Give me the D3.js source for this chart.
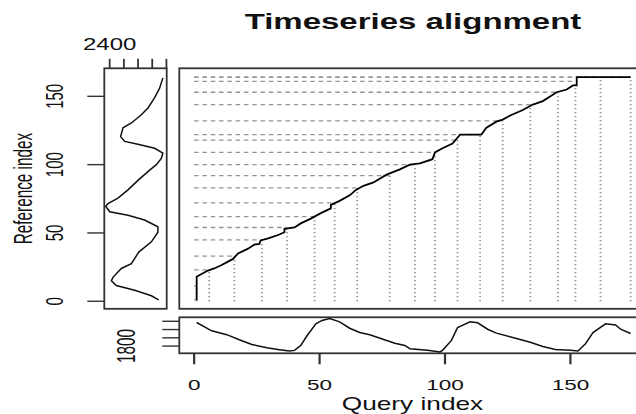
<!DOCTYPE html>
<html><head><meta charset="utf-8">
<script src="https://cdn.jsdelivr.net/npm/d3@7/dist/d3.min.js"></script>
<style>body{margin:0;background:#fff}svg{display:block}text{font-family:"Liberation Sans",Arial,sans-serif;fill:#111}</style>
</head><body>
<svg id="chart" width="636" height="414"></svg>
<script>
// ---- data ----
const title = "Timeseries alignment";
const xLabel = "Query index";
const yLabel = "Reference index";
const queryLength = 174;
const referenceLength = 164;
// alignment path vertices (query index, reference index)
const pathQ = [1,1,3.5,5.5,8,11,13.5,15.5,17.5,21.5,24,26,26.5,29.5,33.5,36,36,40,42.5,46.5,50.5,54.5,54.5,58,62,64.5,67.5,71.5,76.5,82,86,90,95,96,99,103,106,114.5,116.5,120.5,123,126,131,135,139,144.5,148.5,151,152.5,152.5,174];
const pathR = [1,18,20.5,22.5,24,26.5,29,31,35,38.5,41.5,42,44.5,46,48.5,50.5,53,54,57,60.5,64.5,68,70.5,73.5,77.5,81.5,84.5,87,92.5,96.5,100,101,104,109,112,115.5,122,122,127,131.5,133,136,140,144,146.5,153,155,158,158,164,164];
// match lines (every n-th path point)
const matchQ = [1,1,6,16,27,37,48,56,65,78,88,96,105,114,123,134,145,152,162,174];
const matchR = [1,11,23,33,45,54,62,72,83,92,100,109,118,122,132,144,153,161,164,164];
// query series (bottom panel)
const queryIdx = [1,7,13,18,23,29,34,38,40,42.5,45,48.5,51,54,58,62,66,70,75,80,84,86,93,98,99,102.5,105,110,113,117,120.5,127,134,139,144,150,153,156,159,164,168,170,174];
const queryVal = [2085,1985,1938,1876,1820,1780,1757,1740,1748,1808,1925,2070,2110,2132,2093,2016,1964,1937,1886,1835,1808,1769,1749,1729,1749,1866,2023,2093,2082,2004,1957,1905,1846,1796,1760,1749,1740,1828,1964,2070,2055,2004,1952];
// reference series (left panel)
const refIdx = [1,4,8,11.5,15,17.5,24,27.5,36,43.5,50.5,54.5,59.5,63,65.5,69.5,71.5,75.5,81.5,89,96,100,104.5,108.5,112,115,117,120.5,127,130.5,136.5,141.5,149,156,163.5];
const refVal = [2055,2106,2224,2353,2388,2377,2318,2247,2195,2106,2060,2060,2154,2271,2400,2428,2412,2342,2271,2195,2118,2071,2036,2025,2083,2201,2294,2323,2306,2247,2177,2130,2083,2048,2025];
const refAxisTicks = [2400,2300,2200,2100,2000];
const refAxisLabels = ["2400"];
const queryAxisTicks = [1800,1900,2000,2100];
const queryAxisLabels = ["1800"];
const indexTicks = [0,50,100,150];

// ---- layout ----
const svg = d3.select("#chart");
const SX = 1.5;   // horizontal stretch of the picture
const SXV = 1.65; // stretch seen on rotated text
const main = {l:179.3, r:648, t:68.3, b:308.8};
const left = {l:104.3, r:166.7};
const low = {t:317.3, b:353.3};
const border = "#333";

const qExt = (queryLength-1)*0.04, rExt = (referenceLength-1)*0.04;
const x = d3.scaleLinear().domain([1-qExt, queryLength+qExt]).range([main.l, main.r]);
const y = d3.scaleLinear().domain([1-rExt, referenceLength+rExt]).range([main.b, main.t]);
const xRef = d3.scaleLinear().domain([2438, 1998]).range([left.l, left.r]);
const qMin = d3.min(queryVal), qMax = d3.max(queryVal), qE = (qMax-qMin)*0.04;
const yQ = d3.scaleLinear().domain([qMin-qE, qMax+qE]).range([low.b, low.t]);

function htext(txt, cx, by, size, weight, anchor) {
  svg.append("text").attr("transform", `translate(${cx},${by}) scale(${SX},1)`)
    .attr("text-anchor", anchor || "middle").attr("font-size", size)
    .attr("font-weight", weight || "normal").text(txt);
}
function vtext(txt, bx, cy, size) {
  svg.append("text").attr("transform", `translate(${bx},${cy}) scale(${SXV},1) rotate(-90)`)
    .attr("text-anchor", "middle").attr("font-size", size).text(txt);
}

// match lines
const mIdx = d3.range(matchQ.length);
svg.append("g").selectAll("line").data(mIdx).join("line")
  .attr("x1", i => x(matchQ[i])).attr("x2", i => x(matchQ[i]))
  .attr("y1", y(0)).attr("y2", i => y(matchR[i]))
  .attr("stroke", "#949494").attr("stroke-width", 1.8).attr("stroke-dasharray", "1.3,2.7");
svg.append("g").selectAll("line").data(mIdx).join("line")
  .attr("x1", x(0)).attr("x2", i => x(matchQ[i]))
  .attr("y1", i => y(matchR[i])).attr("y2", i => y(matchR[i]))
  .attr("stroke", "#949494").attr("stroke-width", 1.3).attr("stroke-dasharray", "4.5,3.8");

// alignment path
svg.append("path").datum(d3.range(pathQ.length))
  .attr("d", d3.line().x(i => x(pathQ[i])).y(i => y(pathR[i])))
  .attr("fill", "none").attr("stroke", "#000").attr("stroke-width", 1.8);

// main box
svg.append("rect").attr("x", main.l).attr("y", main.t).attr("width", main.r-main.l).attr("height", main.b-main.t)
  .attr("fill", "none").attr("stroke", border).attr("stroke-width", 1.8);

// left panel (reference)
svg.append("rect").attr("x", left.l).attr("y", main.t).attr("width", left.r-left.l).attr("height", main.b-main.t)
  .attr("fill", "none").attr("stroke", border).attr("stroke-width", 1.8);
svg.append("path").datum(d3.range(refIdx.length))
  .attr("d", d3.line().x(i => xRef(refVal[i])).y(i => y(refIdx[i])))
  .attr("fill", "none").attr("stroke", "#111").attr("stroke-width", 1.5);
svg.append("g").selectAll("line").data(indexTicks).join("line")
  .attr("x1", left.l-17).attr("x2", left.l).attr("y1", d => y(d)).attr("y2", d => y(d))
  .attr("stroke", border).attr("stroke-width", 1.4);
indexTicks.forEach(d => vtext(String(d), 62.5, y(d), 15));
svg.append("g").selectAll("line").data(refAxisTicks).join("line")
  .attr("x1", d => xRef(d)).attr("x2", d => xRef(d)).attr("y1", main.t).attr("y2", main.t-9.5)
  .attr("stroke", border).attr("stroke-width", 1.8);
refAxisLabels.forEach(l => htext(l, xRef(+l), 50, 16));
vtext(yLabel, 31.5, (main.t+main.b)/2, 15.3);

// lower panel (query)
svg.append("rect").attr("x", main.l).attr("y", low.t).attr("width", main.r-main.l).attr("height", low.b-low.t)
  .attr("fill", "none").attr("stroke", border).attr("stroke-width", 1.8);
svg.append("path").datum(d3.range(queryIdx.length))
  .attr("d", d3.line().x(i => x(queryIdx[i])).y(i => yQ(queryVal[i])))
  .attr("fill", "none").attr("stroke", "#111").attr("stroke-width", 1.5);
svg.append("g").selectAll("line").data(queryAxisTicks).join("line")
  .attr("x1", main.l-17).attr("x2", main.l).attr("y1", d => yQ(d)).attr("y2", d => yQ(d))
  .attr("stroke", border).attr("stroke-width", 1.4);
queryAxisLabels.forEach(l => vtext(l, 134.5, yQ(+l), 15.3));
svg.append("g").selectAll("line").data(indexTicks).join("line")
  .attr("x1", d => x(d)).attr("x2", d => x(d)).attr("y1", low.b).attr("y2", low.b+11)
  .attr("stroke", border).attr("stroke-width", 2.2);
indexTicks.forEach(d => htext(String(d), x(d), 390, 15));
htext(xLabel, 412.5, 410, 17.5);

// title
htext(title, 413, 29, 22, "bold");
</script>
</body></html>
